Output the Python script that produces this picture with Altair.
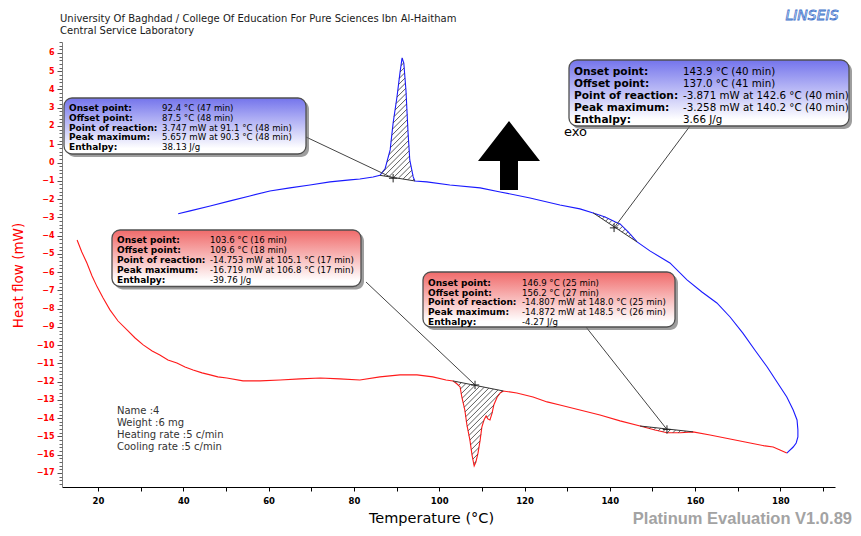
import altair as alt
import pandas as pd

# ---------------- data ----------------
blue_T = [38.8, 41.6, 46.3, 51.0, 55.6, 60.3, 65.0, 69.7, 74.4, 79.1,
          81.4, 84.5, 86.1, 87.3, 88.5, 89.2, 90.1, 90.8, 91.3, 91.7,
          92.2, 92.7, 93.1, 93.9, 94.3, 97.1, 102.5, 109.6, 114.3, 121.3,
          128.3, 133.0, 136.1, 138.9, 141.2, 142.4, 144.3, 146.4, 149.4, 154.1,
          158.1, 161.6, 165.1, 168.2, 171.2, 174.0, 176.9, 179.2, 181.5, 183.0,
          183.9, 184.1, 184.1, 183.7, 183.0, 181.5]
blue_V = [-2.81, -2.65, -2.38, -2.10, -1.83, -1.56, -1.39, -1.23, -1.06, -0.95,
          -0.90, -0.79, -0.70, -0.35, 0.69, 2.17, 3.59, 4.91, 5.73, 5.45,
          3.97, 1.62, 0.14, -0.79, -1.01, -1.06, -1.23, -1.39, -1.61, -1.94,
          -2.33, -2.54, -2.76, -2.98, -3.25, -3.36, -3.80, -4.35, -4.84, -5.50,
          -6.43, -7.09, -7.69, -8.46, -9.34, -10.27, -11.20, -12.02, -12.84, -13.55,
          -14.10, -14.64, -15.03, -15.36, -15.58, -15.91]

red_T = [15.1, 16.2, 17.4, 18.6, 19.8, 21.2, 22.8, 24.7, 26.8, 28.7,
         30.6, 32.7, 34.5, 36.4, 38.5, 40.4, 42.3, 44.4, 46.3, 48.1,
         50.2, 54.0, 58.0, 62.7, 67.4, 72.1, 76.7, 81.4, 86.1, 90.8,
         94.8, 98.5, 101.6, 103.2, 104.2, 104.9, 105.3, 106.0, 106.5, 107.2,
         107.7, 108.2, 108.6, 109.1, 109.6, 110.0, 110.5, 111.0, 111.4, 111.9,
         112.4, 112.8, 113.6, 114.3, 115.0, 118.2, 122.0, 125.3, 128.3, 133.0,
         137.7, 142.4, 147.1, 150.6, 153.4, 156.5, 159.5, 163.5, 168.2, 172.9,
         176.4, 178.3, 179.9, 181.5]
red_V = [-4.24, -4.90, -5.50, -6.21, -6.81, -7.42, -8.07, -8.68, -9.17, -9.61,
         -9.99, -10.32, -10.54, -10.81, -10.98, -11.20, -11.36, -11.52, -11.63, -11.74,
         -11.80, -11.96, -11.96, -11.91, -11.85, -11.80, -11.85, -11.91, -11.74, -11.63,
         -11.63, -11.74, -11.91, -11.96, -12.13, -12.29, -12.84, -13.55, -14.37, -15.20,
         -16.02, -16.62, -16.40, -15.91, -15.20, -14.49, -14.10, -13.88, -14.04, -14.10,
         -13.72, -13.28, -12.84, -12.62, -12.51, -12.62, -12.84, -13.11, -13.28, -13.55,
         -13.83, -14.15, -14.43, -14.65, -14.80, -14.80, -14.75, -14.92, -15.14, -15.36,
         -15.52, -15.58, -15.74, -15.91]

# integrated peak ranges (curve, onset T, offset T)
hatch_curve = ["blue", "blue", "red", "red"]
hatch_t0 = [86.1, 136.1, 103.2, 147.1]
hatch_t1 = [94.3, 146.4, 115.0, 159.5]

# marked points of reaction
plus_T = [89.2, 141.0, 108.4, 153.4]
plus_V = [-0.86, -3.58, -12.18, -14.62]

row_labels = ["Onset point:", "Offset point:", "Point of reaction:", "Peak maximum:", "Enthalpy:"]
box1_values = ["92.4 °C (47 min)", "87.5 °C (48 min)", "3.747 mW at 91.1 °C (48 min)",
               "5.657 mW at 90.3 °C (48 min)", "38.13 J/g"]
box2_values = ["143.9 °C (40 min)", "137.0 °C (41 min)", "-3.871 mW at 142.6 °C (40 min)",
               "-3.258 mW at 140.2 °C (40 min)", "3.66 J/g"]
box3_values = ["103.6 °C (16 min)", "109.6 °C (18 min)", "-14.753 mW at 105.1 °C (17 min)",
               "-16.719 mW at 106.8 °C (17 min)", "-39.76 J/g"]
box4_values = ["146.9 °C (25 min)", "156.2 °C (27 min)", "-14.807 mW at 148.0 °C (25 min)",
               "-14.872 mW at 148.5 °C (26 min)", "-4.27 J/g"]

header_lines = ["University Of Baghdad / College Of Education For Pure Sciences Ibn Al-Haitham",
                "Central Service Laboratory"]
sample_info = ["Name :4", "Weight :6  mg", "Heating rate :5 c/min", "Cooling rate :5 c/min"]

y_ticks = list(range(-17, 7))
x_ticks = list(range(10, 200, 10))

# ---------------- layout ----------------
W, H = 773, 445
X0, Y0 = 62, 42          # page position of the plot origin
xdom = [11.56, 192.8]
ydom = [-17.77, 6.6]
kx = W / (xdom[1] - xdom[0])
ky = H / (ydom[1] - ydom[0])


def tx(px):
    return xdom[0] + (px - X0) / kx


def vy(py):
    return ydom[1] - (py - Y0) / ky


xs = alt.Scale(domain=xdom, nice=False, zero=False)
ys = alt.Scale(domain=ydom, nice=False, zero=False)
FONT = "DejaVu Sans"

x_axis = alt.Axis(title="Temperature (°C)", values=x_ticks, orient="bottom",
                  labelExpr="datum.value % 20 == 0 ? datum.label : ''",
                  grid=False, domainColor="#000000", tickColor="#000000", tickSize=4,
                  labelFont=FONT, labelFontSize=8.5, labelFontWeight="bold", labelColor="#000000",
                  labelPadding=5, titleFont=FONT, titleFontSize=14.5, titleFontWeight="normal",
                  titleColor="#000000", titleX=431 - X0, titleY=31, titleAlign="center",
                  titleBaseline="middle")
y_axis = alt.Axis(title="Heat flow (mW)", values=y_ticks, orient="left", grid=False,
                  domainColor="#808080", tickColor="#555555", tickSize=5,
                  labelColor="#ff0000", labelFont=FONT, labelFontSize=8, labelFontWeight="bold",
                  labelPadding=3, titleColor="#ff0000", titleFont=FONT, titleFontSize=13.5,
                  titleFontWeight="normal", titleX=18 - X0, titleY=275 - Y0,
                  titleAlign="center", titleBaseline="middle", titleAngle=270)
minor_vals = [round(-17.6 + 0.2 * i, 1) for i in range(122)]
minor_vals = [v for v in minor_vals if abs(v - round(v)) > 1e-6 and v <= 6.6]
y_minor = alt.Axis(title=None, values=minor_vals, orient="left", grid=False, labels=False,
                   domain=False, tickColor="#666666", tickSize=3)


def X(f="T", axis=None):
    return alt.X(f + ":Q", scale=xs, axis=axis)


def Y(f="V", axis=None):
    return alt.Y(f + ":Q", scale=ys, axis=axis)


blue_df = pd.DataFrame({"T": blue_T, "V": blue_V, "i": range(len(blue_T))})
red_df = pd.DataFrame({"T": red_T, "V": red_V, "i": range(len(red_T))})

blue_line = alt.Chart(blue_df).mark_line(color="#1a1aff", strokeWidth=1.1).encode(
    x=X(axis=x_axis), y=Y(axis=y_axis), order="i:Q")
red_line = alt.Chart(red_df).mark_line(color="#ff1a1a", strokeWidth=1.1).encode(
    x=X(), y=Y(axis=y_minor), order="i:Q")

# ---- hatching of the integrated areas (clipped diagonal lines) ----
curves = {"blue": (blue_T, blue_V), "red": (red_T, red_V)}
hatch_rows, chord_rows = [], []
step = 5.5
for name, t0, t1 in zip(hatch_curve, hatch_t0, hatch_t1):
    T, V = curves[name]
    pts = [(t * kx, v * ky) for t, v in zip(T, V) if t0 - 1e-6 <= t <= t1 + 1e-6]
    chord_rows.append({"T": pts[0][0] / kx, "V": pts[0][1] / ky,
                       "T2": pts[-1][0] / kx, "V2": pts[-1][1] / ky})
    n = len(pts)
    cs = [w - u for u, w in pts]
    c = min(cs) + step / 2
    while c < max(cs):
        cuts = []
        for k in range(n):
            (u1, w1), (u2, w2) = pts[k], pts[(k + 1) % n]
            f1, f2 = w1 - u1 - c, w2 - u2 - c
            if (f1 < 0) != (f2 < 0):
                s = f1 / (f1 - f2)
                cuts.append((u1 + s * (u2 - u1), w1 + s * (w2 - w1)))
        cuts.sort()
        for a, b in zip(cuts[0::2], cuts[1::2]):
            hatch_rows.append({"T": a[0] / kx, "V": a[1] / ky, "T2": b[0] / kx, "V2": b[1] / ky})
        c += step

hatch = alt.Chart(pd.DataFrame(hatch_rows)).mark_rule(color="#333333", strokeWidth=0.8).encode(
    x=X(), y=Y(), x2="T2:Q", y2="V2:Q")
chords = alt.Chart(pd.DataFrame(chord_rows)).mark_rule(color="#333333", strokeWidth=1).encode(
    x=X(), y=Y(), x2="T2:Q", y2="V2:Q")

# ---- leader lines and markers ----
leader_start_px = [(306, 137), (690, 126), (366, 282), (586, 327)]
lead_df = pd.DataFrame({"T": plus_T, "V": plus_V,
                        "T2": [tx(p[0]) for p in leader_start_px],
                        "V2": [vy(p[1]) for p in leader_start_px]})
leaders = alt.Chart(lead_df).mark_rule(color="#444444", strokeWidth=1).encode(
    x=X(), y=Y(), x2="T2:Q", y2="V2:Q")
plus = alt.Chart(pd.DataFrame({"T": plus_T, "V": plus_V})).mark_point(
    shape="M-1,0L1,0M0,-1L0,1", size=70, stroke="#222222", strokeWidth=1, filled=False,
    opacity=1).encode(x=X(), y=Y())

# ---- annotation boxes ----
boxes = [  # (left, top, right, bottom, colour, label x, value x, first row y, row step, big font)
    (64, 98, 306, 154, "blue", 69, 162, 107.7, 9.9, False, box1_values),
    (569, 60, 849, 126, "blue", 574, 683, 72, 12.1, True, box2_values),
    (112, 230, 361, 286.5, "red", 117, 210, 239.7, 10, False, box3_values),
    (423, 272, 675, 327, "red", 428, 522, 282.7, 9.8, False, box4_values),
]


def grad(top):
    return {"gradient": "linear", "x1": 0, "x2": 0, "y1": 0, "y2": 1,
            "stops": [{"offset": 0, "color": top}, {"offset": 0.9, "color": "#ffffff"},
                      {"offset": 1, "color": "#ffffff"}]}


box_layers = []
box_df_all = pd.DataFrame([{"T": tx(b[0]), "T2": tx(b[2]), "V": vy(b[1]), "V2": vy(b[3])}
                           for b in boxes])
box_layers.append(alt.Chart(box_df_all).mark_rect(
    fill="#6a6a6a", opacity=0.65, cornerRadius=8, xOffset=3, x2Offset=3, yOffset=3,
    y2Offset=3).encode(x=X(), x2="T2:Q", y=Y(), y2="V2:Q"))
for colour, top in (("blue", "#7474ec"), ("red", "#f06a6a")):
    sub = pd.DataFrame([{"T": tx(b[0]), "T2": tx(b[2]), "V": vy(b[1]), "V2": vy(b[3])}
                        for b in boxes if b[4] == colour])
    box_layers.append(alt.Chart(sub).mark_rect(
        fill=grad(top), stroke="#505050", strokeWidth=1.3, cornerRadius=8).encode(
        x=X(), x2="T2:Q", y=Y(), y2="V2:Q"))

label_rows = {False: [], True: []}
value_rows = {False: [], True: []}
for b in boxes:
    for r, (lab, val) in enumerate(zip(row_labels, b[10])):
        py = b[7] + r * b[8]
        label_rows[b[9]].append({"T": tx(b[5]), "V": vy(py), "text": lab})
        value_rows[b[9]].append({"T": tx(b[6]), "V": vy(py), "text": val})


def text_layer(rows, **kw):
    return alt.Chart(pd.DataFrame(rows)).mark_text(
        align="left", baseline="middle", font=FONT, **kw).encode(
        x=X(), y=Y(), text="text:N")


text_layers = [
    text_layer(label_rows[False], fontSize=9, fontWeight="bold", color="#000000"),
    text_layer(value_rows[False], fontSize=8.6, color="#000000"),
    text_layer(label_rows[True], fontSize=10.6, fontWeight="bold", color="#000000"),
    text_layer(value_rows[True], fontSize=10.3, color="#000000"),
]

# ---- free texts ----
header = text_layer([{"T": tx(60), "V": vy(18.5), "text": header_lines[0]},
                     {"T": tx(60), "V": vy(30.5), "text": header_lines[1]}],
                    fontSize=10, color="#1a1a1a")
info = text_layer([{"T": tx(117), "V": vy(410.7 + 12 * k), "text": s}
                   for k, s in enumerate(sample_info)], fontSize=10, color="#333333")
exo = text_layer([{"T": tx(564), "V": vy(132), "text": "exo"}], fontSize=13, color="#000000")
platinum = alt.Chart(pd.DataFrame([{"T": tx(852), "V": vy(523.5), "text": "Platinum Evaluation V1.0.89"}])
                     ).mark_text(align="right", baseline="alphabetic", font="Liberation Sans",
                                 fontSize=16.5, fontWeight="bold", color="#a3a3a3").encode(
    x=X(), y=Y(), text="text:N")
logo = alt.Chart(pd.DataFrame([{"T": tx(812), "V": vy(16), "text": "LINSEIS"}])).mark_text(
    align="center", baseline="middle", font=FONT, fontSize=14, fontStyle="italic",
    fill="#ffffff", stroke="#3f74cc", strokeWidth=0.8).encode(
    x=X(), y=Y(), text="text:N")

# ---- big exo arrow ----
arrow = alt.Chart(pd.DataFrame([{"T": tx(509), "V": vy(155.5)}])).mark_point(
    shape="M0,-1.11L1,0.18L0.29,0.18L0.29,1.11L-0.29,1.11L-0.29,0.18L-1,0.18Z",
    size=3844, filled=True, fill="#000000", strokeWidth=0, opacity=1).encode(x=X(), y=Y())

layers = [blue_line, red_line, hatch, chords, leaders, plus, exo] + box_layers + text_layers + \
         [arrow, header, info, platinum, logo]

chart = alt.layer(*layers).resolve_axis(x="independent", y="independent").properties(
    width=W, height=H,
    autosize=alt.AutoSizeParams(type="none"),
    padding={"left": 54, "top": 34, "right": 18, "bottom": 41},
    background="#ffffff",
).configure_view(stroke=None)

chart.save("out.html", embed_options={"renderer": "svg", "actions": False})
